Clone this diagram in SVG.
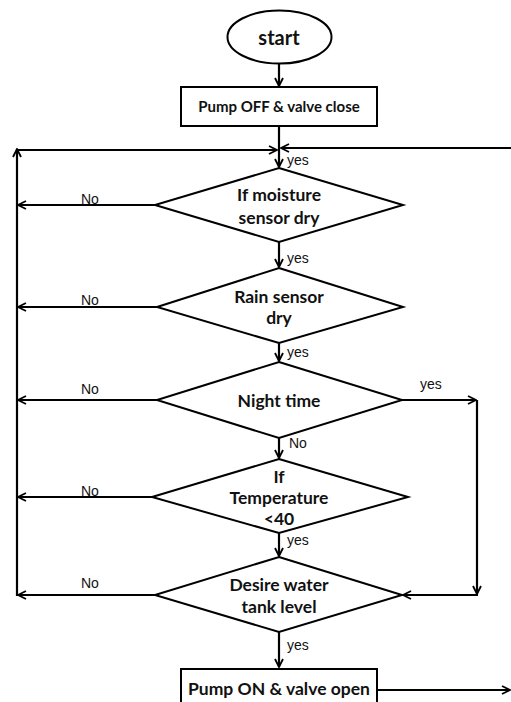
<svg xmlns="http://www.w3.org/2000/svg" width="511" height="702" viewBox="0 0 511 702">
<defs>
<marker id="ah" viewBox="0 0 10 10" refX="9" refY="5" markerWidth="10" markerHeight="10" markerUnits="userSpaceOnUse" orient="auto">
<path d="M1,1 L9,5 L1,9" fill="none" stroke="#000" stroke-width="1.8"/>
</marker>
</defs>
<style>
.shape{fill:#fff;stroke:#000;stroke-width:2}
.t{font-family:Lato,"Open Sans","Liberation Sans",sans-serif;font-weight:bold;font-size:17.5px;text-anchor:middle;fill:#111}
.l{font-family:"Liberation Sans",Arial,sans-serif;font-size:14px;fill:#111}
.c{fill:none;stroke:#000;stroke-width:2.2}
.a{marker-end:url(#ah)}
</style>
<rect width="511" height="702" fill="#fff"/>
<g id="connectors">
<path class="c a" d="M279,63 L279,86"/>
<path class="c" d="M279,126 L279,150"/>
<path class="c a" d="M17,150 L277,150"/>
<path class="c a" d="M511,148 L281,148"/>
<path class="c a" d="M279,150 L279,167"/>
<path class="c a" d="M17,596 L17,149"/>
<path class="c a" d="M155,205 L18,205"/>
<path class="c a" d="M279,242 L279,267"/>
<path class="c a" d="M157,307 L18,307"/>
<path class="c a" d="M279,343 L279,361"/>
<path class="c a" d="M157,400 L18,400"/>
<path class="c a" d="M402,400 L476,400"/>
<path class="c a" d="M477,400 L477,594"/>
<path class="c a" d="M478,595 L403,595"/>
<path class="c a" d="M279,438 L279,458"/>
<path class="c a" d="M152,497 L18,497"/>
<path class="c a" d="M279,533 L279,556"/>
<path class="c a" d="M155,595 L18,595"/>
<path class="c a" d="M279,632 L279,667"/>
<path class="c a" d="M377,690 L510,690"/>
<text class="l" x="287" y="165">yes</text>
<text class="l" x="287" y="263">yes</text>
<text class="l" x="287" y="357">yes</text>
<text class="l" x="289" y="448">No</text>
<text class="l" x="287" y="545">yes</text>
<text class="l" x="287" y="650">yes</text>
<text class="l" x="420" y="389">yes</text>
<text class="l" x="81" y="204">No</text>
<text class="l" x="81" y="305">No</text>
<text class="l" x="81" y="394">No</text>
<text class="l" x="81" y="496">No</text>
<text class="l" x="81" y="588">No</text>
</g>
<g id="start">
<ellipse class="shape" cx="279.5" cy="37" rx="52" ry="26.5"/>
<text class="t" x="279" y="45" style="font-size:20px">start</text>
</g>
<g id="pump-off">
<rect class="shape" x="181" y="87" width="196" height="39"/>
<text class="t" x="279" y="112" style="font-size:15px">Pump OFF &amp; valve close</text>
</g>
<g id="moisture">
<polygon class="shape" points="279,168 403,205 279,242 155,205"/>
<text class="t" x="279" y="201">If moisture</text>
<text class="t" x="279" y="224">sensor dry</text>
</g>
<g id="rain">
<polygon class="shape" points="279,268 403,307 279,343 157,307"/>
<text class="t" x="279" y="303">Rain sensor</text>
<text class="t" x="279" y="324">dry</text>
</g>
<g id="night">
<polygon class="shape" points="279,362 402,400 279,438 157,400"/>
<text class="t" x="279" y="407">Night time</text>
</g>
<g id="temperature">
<polygon class="shape" points="279,459 408,497 279,533 152,497"/>
<text class="t" x="279" y="483">If</text>
<text class="t" x="279" y="504">Temperature</text>
<text class="t" x="279" y="525">&lt;40</text>
</g>
<g id="tank">
<polygon class="shape" points="279,557 402,595 279,632 155,595"/>
<text class="t" x="279" y="591">Desire water</text>
<text class="t" x="279" y="613">tank level</text>
</g>
<g id="pump-on">
<rect class="shape" x="181" y="669" width="196" height="40"/>
<text class="t" x="279" y="695">Pump ON &amp; valve open</text>
</g>
</svg>
